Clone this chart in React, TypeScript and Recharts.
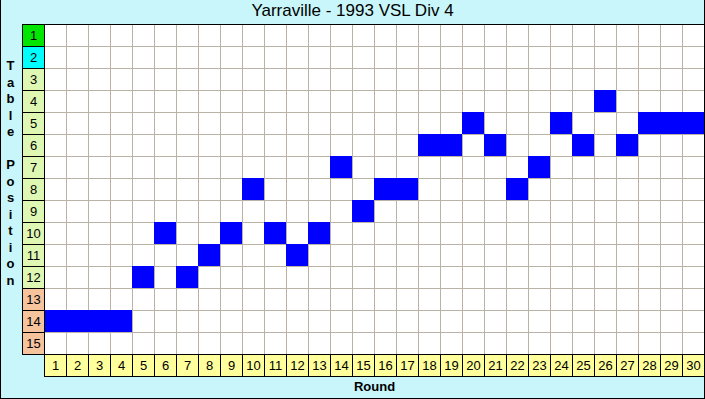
import { CartesianGrid, ReferenceLine, Scatter, ScatterChart, XAxis, YAxis } from "recharts";

const rounds = [1, 2, 3, 4, 5, 6, 7, 8, 9, 10, 11, 12, 13, 14, 15, 16, 17, 18, 19, 20, 21, 22, 23, 24, 25, 26, 27, 28, 29, 30];
const positions = [14, 14, 14, 14, 12, 10, 12, 11, 10, 8, 10, 11, 10, 7, 9, 8, 8, 6, 6, 5, 6, 8, 7, 5, 6, 4, 6, 5, 5, 5];
const places = [1, 2, 3, 4, 5, 6, 7, 8, 9, 10, 11, 12, 13, 14, 15];

const title = "Yarraville - 1993 VSL Div 4";
const yTitle = "Table Position";
const xTitle = "Round";

const data = rounds.map((round, i) => ({ round, pos: positions[i] }));
// cell edges for the grid
const colBounds = [...rounds.map((r) => r - 0.5), rounds[rounds.length - 1] + 0.5];
const rowBounds = places.map((p) => p + 0.5);

const CELL = 22;
const FONT = "'Liberation Sans', Arial, sans-serif";
const GRID = "#bab2a4";

function placeColor(p: number) {
  if (p === 1) return "#00e600";
  if (p === 2) return "#00ffff";
  if (p >= 13) return "#f6c49c";
  return "#def8b4";
}

function RoundTick(props: any) {
  const { x, y, payload } = props;
  return (
    <g>
      <rect x={x - CELL / 2} y={y} width={CELL} height={CELL} fill="#ffff9c" stroke="#000" />
      <text x={x} y={y + 15.5} textAnchor="middle" fontSize={13} fontFamily={FONT} fill="#000">
        {payload.value}
      </text>
    </g>
  );
}

function PlaceTick(props: any) {
  const { x, y, payload } = props;
  return (
    <g>
      <rect x={x - CELL} y={y - CELL / 2} width={CELL} height={CELL} fill={placeColor(payload.value)} stroke="#000" />
      <text x={x - CELL / 2} y={y + 4.5} textAnchor="middle" fontSize={13} fontFamily={FONT} fill="#000">
        {payload.value}
      </text>
    </g>
  );
}

function Cell(props: any) {
  const { cx, cy } = props;
  return <rect x={cx - CELL / 2 - 0.5} y={cy - CELL / 2 - 0.5} width={CELL} height={CELL} fill="#0000ff" />;
}

export default function App() {
  return (
    <div
      style={{
        position: "relative",
        width: 705,
        height: 399,
        background: "#c8f6fa",
        boxSizing: "border-box",
        fontFamily: FONT,
      }}
    >
      <style>{"body{margin:0}"}</style>
      <div style={{ position: "absolute", left: 0, top: 1, width: 705, textAlign: "center", fontSize: 17 }}>{title}</div>
      <div
        style={{
          position: "absolute",
          left: 0,
          top: 58,
          width: 21,
          textAlign: "center",
          fontSize: 13,
          fontWeight: "bold",
          lineHeight: "16.5px",
          whiteSpace: "pre",
        }}
      >
        {yTitle.split("").join("\n")}
      </div>
      <div
        style={{
          position: "absolute",
          left: 44,
          top: 379,
          width: 661,
          textAlign: "center",
          fontSize: 13,
          fontWeight: "bold",
        }}
      >
        {xTitle}
      </div>
      <div style={{ position: "absolute", left: 0, top: 0 }}>
        <ScatterChart width={705} height={399} margin={{ top: 24.5, right: 0.5, bottom: 22.5, left: 22.5 }}>
          <CartesianGrid horizontal={false} vertical={false} fill="#ffffff" />
          <XAxis
            dataKey="round"
            type="number"
            domain={[0.5, 30.5]}
            ticks={rounds}
            interval={0}
            tickSize={0}
            tickMargin={0}
            axisLine={false}
            tickLine={false}
            height={22}
            tick={<RoundTick />}
          />
          <YAxis
            dataKey="pos"
            type="number"
            domain={[0.5, 15.5]}
            ticks={places}
            interval={0}
            reversed
            tickSize={0}
            tickMargin={0}
            axisLine={false}
            tickLine={false}
            width={22}
            tick={<PlaceTick />}
          />
          {colBounds.map((b) => (
            <ReferenceLine key={"c" + b} x={b} stroke={GRID} />
          ))}
          {rowBounds.map((b) => (
            <ReferenceLine key={"r" + b} y={b} stroke={GRID} />
          ))}
          <Scatter data={data} shape={<Cell />} isAnimationActive={false} />
          <ReferenceLine y={0.5} stroke="#000" />
        </ScatterChart>
      </div>
      <div
        style={{
          position: "absolute",
          inset: 0,
          borderLeft: "1px solid #000",
          borderRight: "1px solid #000",
          borderBottom: "1px solid #000",
          pointerEvents: "none",
        }}
      />
    </div>
  );
}
